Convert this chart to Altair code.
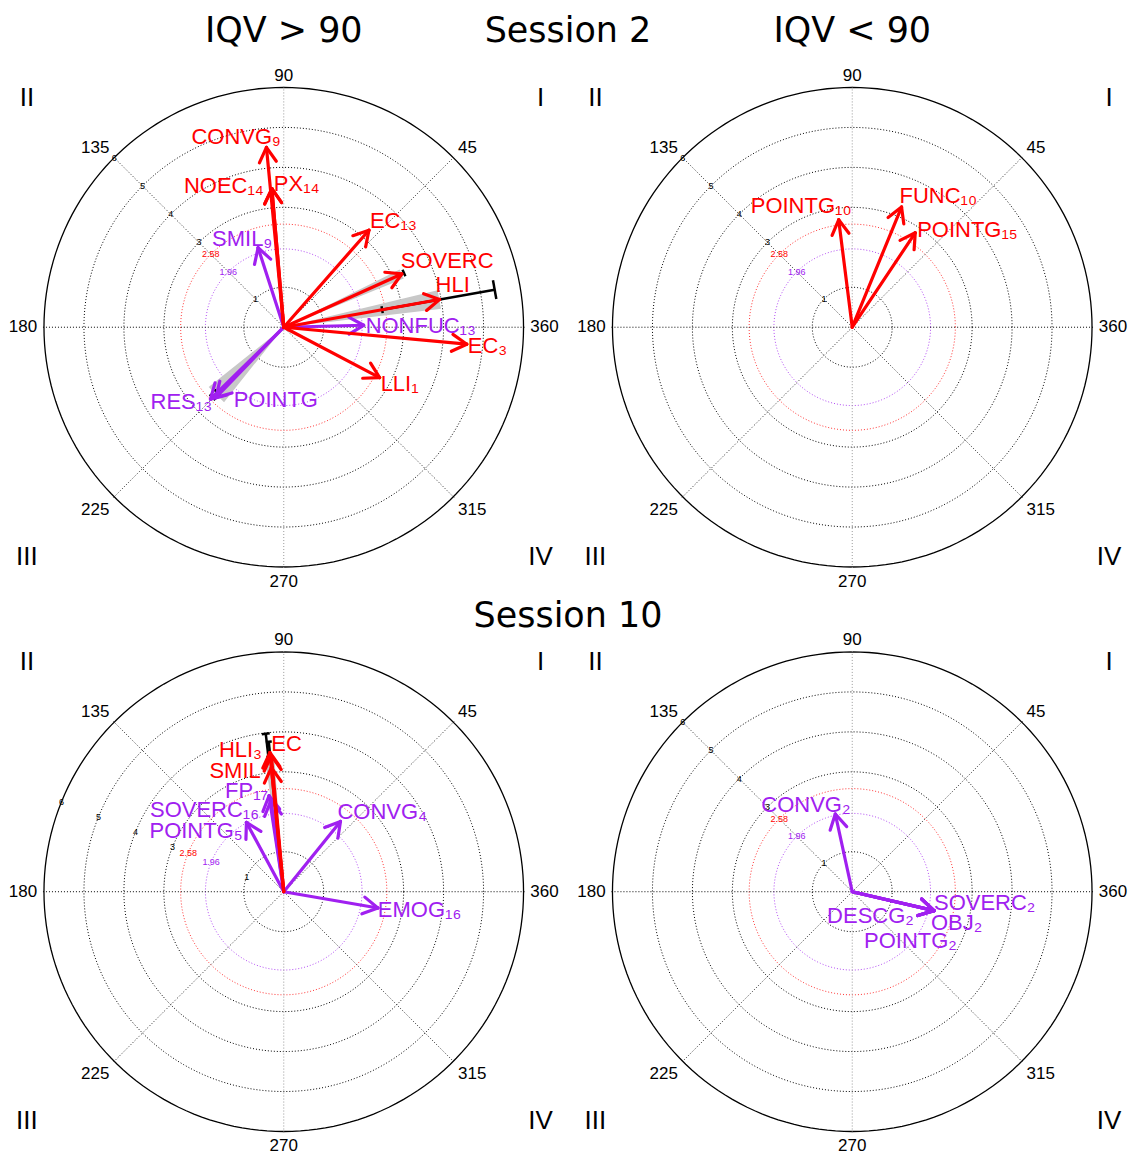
import math
import altair as alt
import pandas as pd

# ------------------------------------------------------------------
# Values (angle in degrees, vector length)
# ------------------------------------------------------------------
# Session 2, IQV > 90
s2_hi_labels = ["CONVG₉", "NOEC₁₄", "PX₁₄", "SMIL₉", "EC₁₃", "SOVERC", "HLI",
                "NONFUC₁₃", "EC₃", "LLI₁", "RES₁₃", "POINTG"]
s2_hi_angle = [95.5, 94.9, 94.9, 107.9, 48.7, 24.3, 10.1, 1.4, 354.7, 332.3, 224.5, 226.0]
s2_hi_mag = [4.52, 3.48, 3.48, 2.09, 3.23, 3.24, 3.96, 2.00, 4.60, 2.71, 2.57, 2.45]
s2_hi_err_angle = [24.3, 10.1, 224.5]
s2_hi_err_lo = [3.18, 2.50, 2.33]
s2_hi_err_hi = [3.30, 5.36, 2.50]
s2_hi_ci_angle = [24.3, 10.1, 225.0]
s2_hi_ci_mag = [3.24, 3.96, 2.40]
s2_hi_ci_half = [2.2, 3.4, 6.5]

# Session 2, IQV < 90
s2_lo_labels = ["POINTG₁₀", "FUNC₁₀", "POINTG₁₅"]
s2_lo_angle = [97.2, 67.7, 56.3]
s2_lo_mag = [2.71, 3.25, 2.84]

# Session 10, IQV > 90
s10_hi_labels = ["HLI₃", "EC", "SMIL", "FP₁₇", "SOVERC₁₆", "POINTG₅", "CONVG₄", "EMOG₁₆"]
s10_hi_angle = [95.7, 95.2, 95.7, 98.7, 98.0, 118.3, 51.1, 350.2]
s10_hi_mag = [3.50, 3.42, 3.12, 2.43, 2.30, 1.97, 2.26, 2.39]
s10_hi_err_angle = [96.5, 95.7]
s10_hi_err_lo = [3.40, 3.30]
s10_hi_err_hi = [3.98, 3.77]
s10_hi_ci_angle = [96.0]
s10_hi_ci_mag = [3.30]
s10_hi_ci_half = [2.0]

# Session 10, IQV < 90
s10_lo_labels = ["CONVG₂", "SOVERC₂", "OBJ₂", "POINTG₂", "DESCG₂"]
s10_lo_angle = [102.3, 347.0, 347.0, 347.0, 347.0]
s10_lo_mag = [1.99, 2.10, 2.10, 2.10, 2.10]

# Reference rings, ring labels, angular ticks, quadrants
ring_levels = [1, 3, 4, 5]
ring_outer = [6]
ring_p05 = [1.96]
ring_p01 = [2.58]
ring_tick_values = [1, 1.96, 2.58, 3, 4, 5, 6]
ring_tick_text = ["1", "1.96", "2.58", "3", "4", "5", "6"]
ring_tick_kind = ["grid", "p05", "p01", "grid", "grid", "grid", "grid"]
angle_ticks = [0, 45, 90, 135, 180, 225, 270, 315]
angle_tick_text = ["360", "45", "90", "135", "180", "225", "270", "315"]
quadrant_text = ["I", "II", "III", "IV"]
quadrant_angle = [41.8, 138.2, 221.8, 318.2]
SIG = 2.58

# ------------------------------------------------------------------
# Styles / layout
# ------------------------------------------------------------------
RED = "#ff0000"
PURPLE = "#a020f0"
PX = 40.0            # pixels per unit
XH, YH = 6.9, 6.55   # half extents of each panel
W, H = int(2 * XH * PX), int(2 * YH * PX)
LABEL_FONT = "Liberation Sans"
TITLE_FONT = "DejaVu Sans"
TITLE_SIZE = 35

# label offsets from arrow tip, in pixels (dx right, dy down)
s2_hi_ldx = [-75, -88, 2, -46, 1, -1, -4, 2, 1, 1, -60, 18]
s2_hi_ldy = [-10, -3, -5, -9, -9, -13, -14, 1, 2, 6, 3, 2]
s2_lo_ldx = [-88, -2, 2]
s2_lo_ldy = [-14, -11, -3]
s10_hi_ldx = [-51, 0, -62, -44, -121, -97, -3, 0]
s10_hi_ldy = [-3, -12, 3, -5, 9, 9, -9, 2]
s10_lo_ldx = [-74, 0, -3, -70, -107]
s10_lo_ldy = [-9, -8, 12, 30, 5]
s2_hi_cap_lo = [5, 7, 8]
s2_hi_cap_hi = [7, 19, 8]
s10_hi_cap_lo = [4, 4]
s10_hi_cap_hi = [8, 6]

XS = alt.Scale(domain=[-XH, XH], nice=False, zero=False)
YS = alt.Scale(domain=[-YH, YH], nice=False, zero=False)
COL = alt.Color("mag:Q", scale=alt.Scale(type="threshold", domain=[SIG], range=[PURPLE, RED]),
                legend=None)


def xq(f="x"):
    return alt.X(f"{f}:Q", scale=XS, axis=None)


def yq(f="y"):
    return alt.Y(f"{f}:Q", scale=YS, axis=None)


def pol(a, r):
    t = math.radians(a)
    return r * math.cos(t), r * math.sin(t)


def ring_df(radii):
    rows = []
    for r in radii:
        for i in range(0, 181):
            x, y = pol(i * 2, r)
            rows.append({"r": r, "i": i, "x": x, "y": y})
    return pd.DataFrame(rows)


def ring_layer(radii, color, width, dash=None, opacity=1.0):
    kw = dict(color=color, strokeWidth=width, opacity=opacity)
    if dash:
        kw["strokeDash"] = dash
    return alt.Chart(ring_df(radii)).mark_line(**kw).encode(
        x=xq(), y=yq(), order="i:Q", detail="r:Q")


def spoke_layer(angles, color):
    rows = []
    for a in angles:
        x, y = pol(a, 6.05)
        rows.append({"x": 0.0, "y": 0.0, "x2": x, "y2": y})
    return alt.Chart(pd.DataFrame(rows)).mark_rule(
        color=color, strokeWidth=1, strokeDash=[1, 2]).encode(
        x=xq(), y=yq(), x2="x2:Q", y2="y2:Q")


def wedge_layer(angles, mags, halves):
    rows = []
    for k, (a, r, d) in enumerate(zip(angles, mags, halves)):
        pts = sorted([(0.0, 0.0), pol(a - d, r), pol(a + d, r)])
        (x0, y0), (x1, y1), (x2, y2) = pts
        yi = y0 + (y2 - y0) * (x1 - x0) / (x2 - x0) if x2 != x0 else y1
        rows.append({"w": k, "x": x0, "lo": y0, "hi": y0})
        rows.append({"w": k, "x": x1, "lo": min(y1, yi), "hi": max(y1, yi)})
        rows.append({"w": k, "x": x2, "lo": y2, "hi": y2})
    return alt.Chart(pd.DataFrame(rows)).mark_area(color="#c8c8c8", opacity=1).encode(
        x=xq(), y=yq("lo"), y2="hi:Q", detail="w:N")


def err_layer(angles, lo, hi, cap_lo, cap_hi):
    rows = []
    for a, l, h, cl, ch in zip(angles, lo, hi, cap_lo, cap_hi):
        t = math.radians(a)
        ux, uy = math.cos(t), math.sin(t)
        px, py = -uy, ux
        rows.append({"x": l * ux, "y": l * uy, "x2": h * ux, "y2": h * uy})
        for rr, c in ((l, cl), (h, ch)):
            hc = c / 2 / PX
            rows.append({"x": rr * ux + hc * px, "y": rr * uy + hc * py,
                         "x2": rr * ux - hc * px, "y2": rr * uy - hc * py})
    return alt.Chart(pd.DataFrame(rows)).mark_rule(color="black", strokeWidth=2.5).encode(
        x=xq(), y=yq(), x2="x2:Q", y2="y2:Q")


def arrow_layers(labels, angles, mags, ldx, ldy):
    seg, txt = [], []
    head = 17 / PX
    for k, (lab, a, r, dx, dy) in enumerate(zip(labels, angles, mags, ldx, ldy)):
        tx, ty = pol(a, r)
        seg.append({"k": k, "mag": r, "x": 0.0, "y": 0.0, "x2": tx, "y2": ty})
        for s in (-30, 30):
            bx, by = pol(a + 180 + s, head)
            seg.append({"k": k, "mag": r, "x": tx, "y": ty, "x2": tx + bx, "y2": ty + by})
        txt.append({"label": lab, "mag": r, "x": tx + dx / PX, "y": ty - dy / PX})
    segdf = pd.DataFrame(seg).sort_values(["mag", "k"], kind="stable")
    arrows = alt.Chart(segdf).mark_rule(strokeWidth=3.2, strokeCap="round").encode(
        x=xq(), y=yq(), x2="x2:Q", y2="y2:Q", color=COL)
    texts = alt.Chart(pd.DataFrame(txt)).mark_text(
        align="left", baseline="middle", font=LABEL_FONT, fontSize=22).encode(
        x=xq(), y=yq(), text="label:N", color=COL)
    return arrows, texts


def panel(labels, angles, mags, ldx, ldy, err=None, ci=None, ring_label_angle=135, title=None):
    layers = [
        ring_layer(ring_levels, "black", 1, [1, 2]),
        ring_layer(ring_p05, PURPLE, 1, [1, 2], 0.8),
        ring_layer(ring_p01, RED, 1, [1, 2], 0.8),
        ring_layer(ring_outer, "black", 1.3),
        spoke_layer([0, 180], "black"),
        spoke_layer([45, 135, 225, 315], "#222222"),
        spoke_layer([90, 270], "#999999"),
    ]
    if ci:
        layers.append(wedge_layer(*ci))
    if err:
        layers.append(err_layer(*err))
    arrows, texts = arrow_layers(labels, angles, mags, ldx, ldy)
    layers.append(arrows)

    # ring value labels
    rl = []
    for v, t, kd in zip(ring_tick_values, ring_tick_text, ring_tick_kind):
        x, y = pol(ring_label_angle, v)
        rl.append({"x": x, "y": y, "t": t, "kind": kd})
    layers.append(alt.Chart(pd.DataFrame(rl)).mark_text(
        font=LABEL_FONT, fontSize=9, align="center", baseline="middle").encode(
        x=xq(), y=yq(), text="t:N",
        color=alt.Color("kind:N", scale=alt.Scale(domain=["grid", "p05", "p01"],
                                                  range=["black", PURPLE, RED]), legend=None)))
    layers.append(texts)

    # angular tick labels
    for a, t in zip(angle_ticks, angle_tick_text):
        c, s = math.cos(math.radians(a)), math.sin(math.radians(a))
        align = "left" if c > 0.1 else ("right" if c < -0.1 else "center")
        base = "alphabetic" if s > 0.1 else ("top" if s < -0.1 else "middle")
        x, y = pol(a, 6.17)
        layers.append(alt.Chart(pd.DataFrame([{"x": x, "y": y, "t": t}])).mark_text(
            font=LABEL_FONT, fontSize=17, align=align, baseline=base, color="black").encode(
            x=xq(), y=yq(), text="t:N"))

    # quadrant numerals
    q = []
    for t, a in zip(quadrant_text, quadrant_angle):
        x, y = pol(a, 8.62)
        q.append({"x": x, "y": y, "t": t})
    layers.append(alt.Chart(pd.DataFrame(q)).mark_text(
        font=LABEL_FONT, fontSize=26, align="center", baseline="middle", color="black").encode(
        x=xq(), y=yq(), text="t:N"))

    ch = alt.layer(*layers).properties(width=W, height=H)
    if title:
        ch = ch.properties(title=alt.TitleParams(
            title, font=TITLE_FONT, fontSize=TITLE_SIZE, fontWeight="normal", anchor="middle",
            frame="group", offset=16, color="black"))
    return ch


p1 = panel(s2_hi_labels, s2_hi_angle, s2_hi_mag, s2_hi_ldx, s2_hi_ldy,
           err=(s2_hi_err_angle, s2_hi_err_lo, s2_hi_err_hi, s2_hi_cap_lo, s2_hi_cap_hi),
           ci=(s2_hi_ci_angle, s2_hi_ci_mag, s2_hi_ci_half), title="IQV > 90")
p2 = panel(s2_lo_labels, s2_lo_angle, s2_lo_mag, s2_lo_ldx, s2_lo_ldy, title="IQV < 90")
p3 = panel(s10_hi_labels, s10_hi_angle, s10_hi_mag, s10_hi_ldx, s10_hi_ldy,
           err=(s10_hi_err_angle, s10_hi_err_lo, s10_hi_err_hi, s10_hi_cap_lo, s10_hi_cap_hi),
           ci=(s10_hi_ci_angle, s10_hi_ci_mag, s10_hi_ci_half), ring_label_angle=158)
p4 = panel(s10_lo_labels, s10_lo_angle, s10_lo_mag, s10_lo_ldx, s10_lo_ldy)

row1 = alt.hconcat(p1, p2, spacing=17).properties(title=alt.TitleParams(
    "Session 2", font=TITLE_FONT, fontSize=TITLE_SIZE, fontWeight="normal", anchor="middle",
    offset=-TITLE_SIZE, color="black"))
row2 = alt.hconcat(p3, p4, spacing=17).properties(title=alt.TitleParams(
    "Session 10", font=TITLE_FONT, fontSize=TITLE_SIZE, fontWeight="normal", anchor="middle",
    offset=-4, color="black"))

chart = alt.vconcat(row1, row2, spacing=9).properties(
    padding={"left": 0, "top": 6, "right": 0, "bottom": 0},
    background="white",
).configure_view(stroke=None)

chart.save("out.html", embed_options={"renderer": "svg", "actions": False})
